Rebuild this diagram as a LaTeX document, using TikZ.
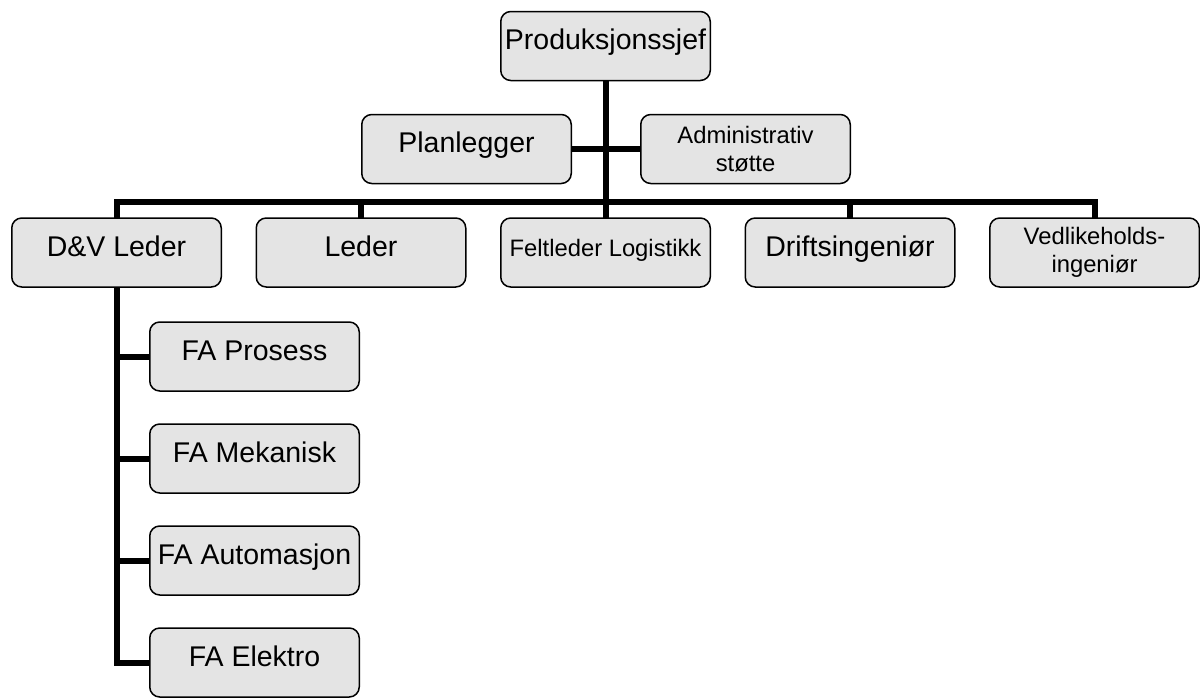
\documentclass[tikz,border=0pt]{standalone}
\usepackage{fontspec}
\setmainfont{Liberation Sans}
\usetikzlibrary{positioning}
\definecolor{boxfill}{HTML}{E4E4E4}

\tikzset{
  unit/.style={draw, line width=1.5pt, rounded corners=10pt, fill=boxfill,
    minimum width=209.5pt, minimum height=69pt, inner sep=2pt, outer sep=0pt, align=center},
  big/.style={unit, font=\fontsize{28.5}{34}\selectfont, text height=21pt, text depth=14pt},
  small/.style={unit, font=\fontsize{23.8}{27.5}\selectfont},
  smallone/.style={small, text height=21pt, text depth=14pt},
  link/.style={line width=6pt},
}

\begin{document}
\begin{tikzpicture}[x=1pt, y=1pt, node distance=35pt]
    \useasboundingbox (0,0) rectangle (1200,-697);

    % top levels
    \node (chef) [big] at (605.5,-46) {Produksjonssjef};
    \node (plan) [big] at (466.5,-149) {Planlegger};
    \node (admin) [small] at (745.5,-149) {Administrativ\\støtte};

    % second row
    \node (felt) [smallone] at (605.5,-252.5) {Feltleder Logistikk};
    \node (leder) [big, left=of felt] {Leder};
    \node (dv) [big, left=of leder] {D\&V Leder};
    \node (drift) [big, right=of felt] {Driftsingeniør};
    \node (vedl) [small, right=of drift] {Vedlikeholds-\\ingeniør};

    % under D&V Leder
    \node (fap) [big, below right=35pt and 138pt of dv.south west] {FA Prosess};
    \node (fam) [big, below=33pt of fap] {FA Mekanisk};
    \node (faa) [big, below=33pt of fam] {FA Automasjon};
    \node (fae) [big, below=33pt of faa] {FA Elektro};

    \draw[link] (chef.south) -- (felt.north);
    \draw[link] (plan.east) -- (admin.west);
    \draw[link] (dv.north) -- ++(0,16) -| (vedl.north);
    \foreach \n in {leder, drift}
        \draw[link] (\n.north) -- ++(0,16);
    \draw[link] (dv.south) |- (fae.west);
    \foreach \n in {fap, fam, faa}
        \draw[link] (\n.west) -- (\n.west -| dv.south);
\end{tikzpicture}
\end{document}
